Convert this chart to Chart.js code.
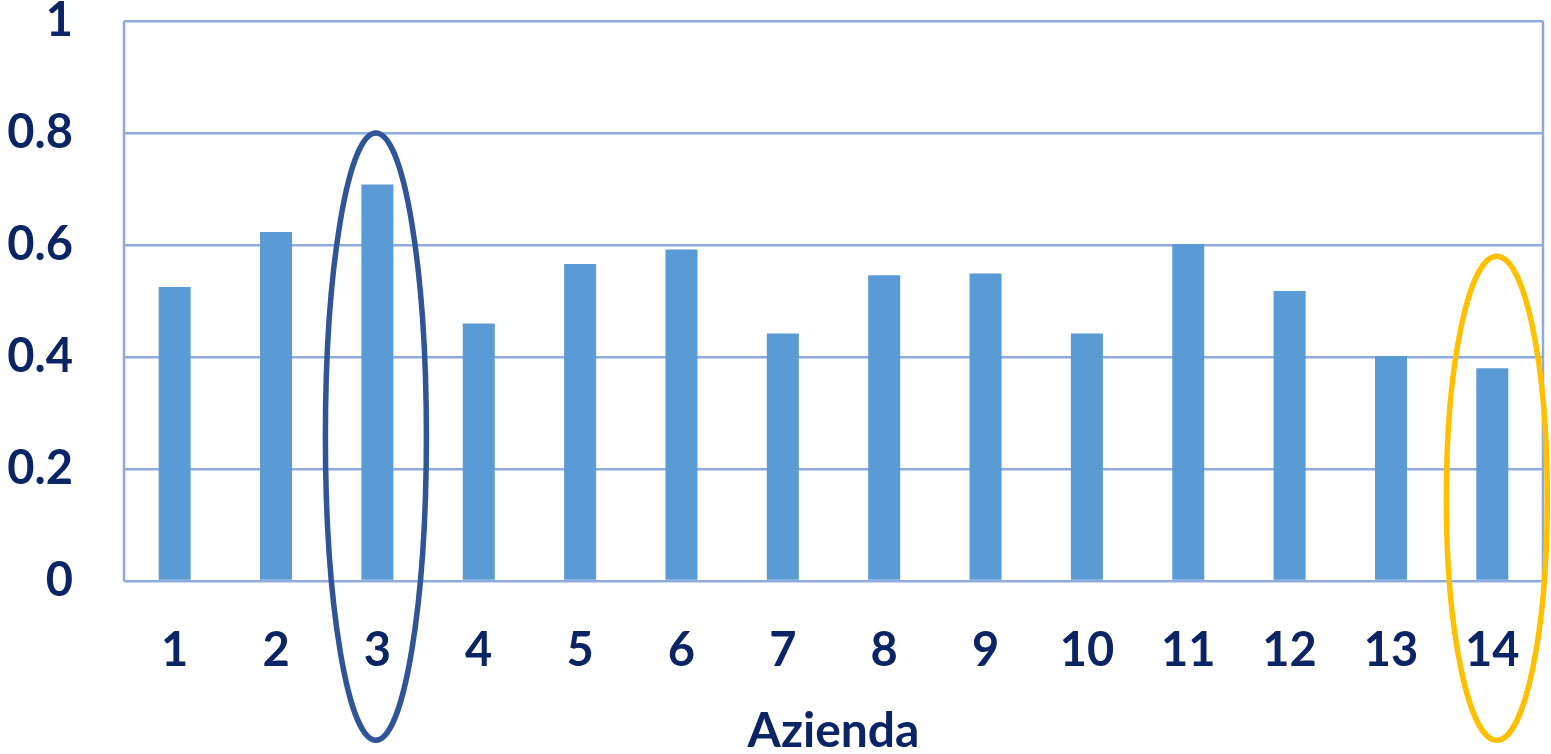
<!DOCTYPE html>
<html>
<head>
<meta charset="utf-8">
<script src="https://cdn.jsdelivr.net/npm/chart.js@4/dist/chart.umd.min.js"></script>
<style>
  html, body { margin: 0; padding: 0; background: #ffffff; overflow: hidden; }
  #wrap { width: 1551px; height: 754px; position: relative; }
</style>
</head>
<body>
<div id="wrap"><canvas id="chart"></canvas></div>
<script>
// Aziende (x categories) and their scores
const categories = ['1', '2', '3', '4', '5', '6', '7', '8', '9', '10', '11', '12', '13', '14'];
const scores = [0.525, 0.623, 0.708, 0.460, 0.566, 0.592, 0.442, 0.546, 0.549, 0.442, 0.602, 0.518, 0.402, 0.380];
const yTicks = [0, 0.2, 0.4, 0.6, 0.8, 1];
const axisTitle = 'Azienda';

// Highlighted aziende: category index, outline colour, value where the ring starts,
// small horizontal nudge of the ring relative to the bar
const highlightIndex = [2, 13];
const highlightColor = ['#2F5597', '#FFC000'];
const highlightTop = [0.805, 0.585];
const highlightNudge = [-1.5, 4.5];

const TEXT = '#0B2465';
const GRID = '#8FAADC';
const FONT = 'Lato';

// Left/right frame lines of the plot area
const framePlugin = {
  id: 'frame',
  beforeDatasetsDraw(chart) {
    const { ctx, chartArea } = chart;
    ctx.save();
    ctx.strokeStyle = GRID;
    ctx.lineWidth = 2.5;
    ctx.beginPath();
    ctx.moveTo(chartArea.left, chartArea.top);
    ctx.lineTo(chartArea.left, chartArea.bottom);
    ctx.moveTo(chartArea.right, chartArea.top);
    ctx.lineTo(chartArea.right, chartArea.bottom);
    ctx.stroke();
    ctx.restore();
  }
};

// Elliptical rings drawn around the highlighted aziende
const ringPlugin = {
  id: 'rings',
  afterDraw(chart) {
    const { ctx } = chart;
    const xs = chart.scales.x, ys = chart.scales.y;
    const lw = 5.5;
    highlightIndex.forEach((idx, i) => {
      const cx = xs.getPixelForValue(idx) + highlightNudge[i];
      const top = ys.getPixelForValue(highlightTop[i]) + lw / 2;
      const bottom = chart.height - 11 - lw / 2;
      const rx = 50.5;
      ctx.save();
      ctx.strokeStyle = highlightColor[i];
      ctx.lineWidth = lw;
      ctx.beginPath();
      ctx.ellipse(cx, (top + bottom) / 2, rx, (bottom - top) / 2, 0, 0, Math.PI * 2);
      ctx.stroke();
      ctx.restore();
    });
  }
};

new Chart(document.getElementById('chart'), {
  type: 'bar',
  data: {
    labels: categories,
    datasets: [{
      data: scores,
      backgroundColor: '#5B9BD5',
      borderWidth: 0,
      barPercentage: 0.316,
      categoryPercentage: 1.0
    }]
  },
  options: {
    responsive: true,
    maintainAspectRatio: false,
    animation: false,
    layout: { padding: { top: 21, right: 8, left: 0, bottom: 0 } },
    plugins: {
      legend: { display: false },
      tooltip: { enabled: false }
    },
    scales: {
      x: {
        grid: { display: false, drawTicks: false },
        border: { display: false },
        ticks: {
          color: TEXT,
          font: { family: FONT, size: 47, weight: 'bold', lineHeight: 1.2 },
          padding: 42,
          maxRotation: 0,
          autoSkip: false
        },
        title: {
          display: true,
          text: axisTitle,
          color: TEXT,
          font: { family: FONT, size: 48, weight: 'bold', lineHeight: 1.2 },
          padding: { top: 0, bottom: -6 }
        },
        afterFit(scale) {
          scale.height = 173;
          scale.paddingLeft = 0;
          scale.paddingRight = 0;
        }
      },
      y: {
        min: 0,
        max: 1,
        afterBuildTicks(scale) { scale.ticks = yTicks.map(v => ({ value: v })); },
        grid: { color: GRID, lineWidth: 2.5, drawTicks: false },
        border: { display: false },
        ticks: {
          color: TEXT,
          font: { family: FONT, size: 47, weight: 'bold', lineHeight: 0.8 },
          padding: 51,
          callback: v => String(Math.round(v * 10) / 10)
        },
        afterFit(scale) {
          scale.width = 124;
          scale.paddingTop = 0;
          scale.paddingBottom = 0;
        }
      }
    }
  },
  plugins: [framePlugin, ringPlugin]
});
</script>
</body>
</html>
